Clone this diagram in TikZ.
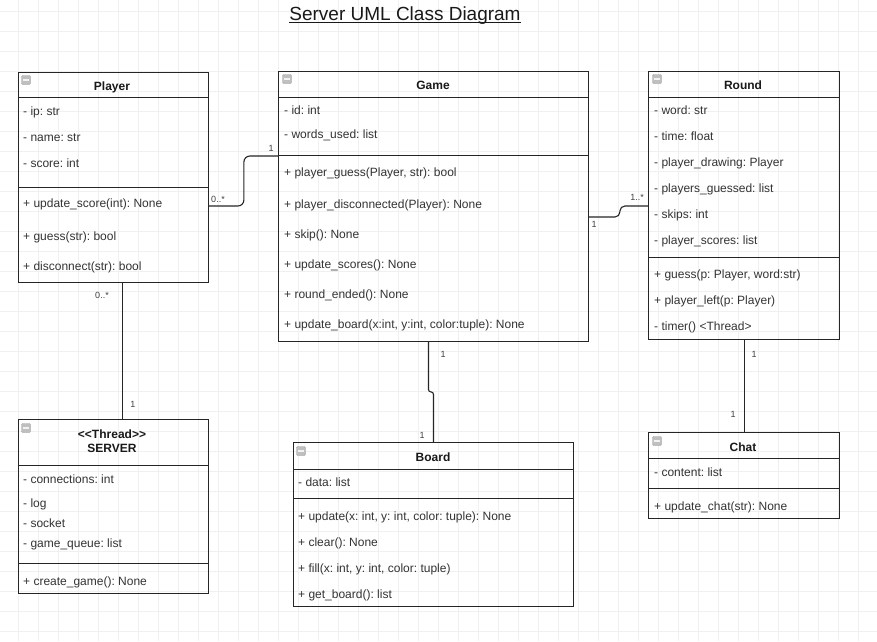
\documentclass[tikz,border=0pt]{standalone}
\usepackage{fontspec}
\setmainfont{Liberation Sans}
\usetikzlibrary{calc}
\frenchspacing
\tikzset{
 classbox/.style={draw=black!85, line width=0.9pt, inner sep=0, anchor=north west},
 divider/.style={draw=black!85, line width=0.9pt},
 txt/.style={anchor=west, inner sep=0, yshift=-1.5pt, font=\fontsize{12}{14}\selectfont\frenchspacing, text=black!80, text height=8.8pt, text depth=2.5pt},
 head/.style={inner sep=0, yshift=-1.5pt, font=\fontsize{12}{14}\selectfont\bfseries, text=black!90, text height=8.8pt, text depth=2.5pt},
 conn/.style={draw=black!85, line width=1.1pt},
 mult/.style={inner sep=0, font=\fontsize{9}{10}\selectfont, text=black!75},
 minusicon/.style={draw=gray!80, fill=gray!50, rounded corners=1.2pt, minimum size=9pt, inner sep=0,
   path picture={\draw[white!90!gray, line width=1.1pt] ([xshift=1.8pt]path picture bounding box.west) -- ([xshift=-1.8pt]path picture bounding box.east);}},
 gridline/.style={draw=black!6, line width=0.5pt}
}
\begin{document}
\begin{tikzpicture}[x=1pt,y=-1pt]
\useasboundingbox (0,0) rectangle (877,641);
\fill[white] (0,0) rectangle (877,641);
% grid
\foreach \gx in {-2,18,...,878} \draw[gridline] (\gx,0) -- (\gx,641);
\foreach \gy in {11,31,...,651} \draw[gridline] (0,\gy) -- (877,\gy);

% title
\node[inner sep=0, anchor=base, font=\fontsize{19}{22}\selectfont, text=black!90] (title) at (405,20) {Server UML Class Diagram};
\draw[black!90, line width=0.8pt] ([yshift=-2.2pt]title.base west) -- ([yshift=-2.2pt]title.base east);

% ---------- Player ----------
\node[classbox, minimum width=190pt, minimum height=210pt] (player) at (18,72) {};
\draw[divider] ([yshift=-25pt]player.north west) -- ([yshift=-25pt]player.north east);
\draw[divider] ([yshift=-115pt]player.north west) -- ([yshift=-115pt]player.north east);
\node[minusicon] (playericon) at (26,80) {};
\node[head] (playertitle) at (112,86) {Player};
\node[txt] (pa1) at (23,111) {- ip: str};
\node[txt] (pa2) at (23,137) {- name: str};
\node[txt] (pa3) at (23,163) {- score: int};
\node[txt] (pm1) at (23,203) {+ update\_score(int): None};
\node[txt] (pm2) at (23,236) {+ guess(str): bool};
\node[txt] (pm3) at (23,266) {+ disconnect(str): bool};

% ---------- Game ----------
\node[classbox, minimum width=310pt, minimum height=270pt] (game) at (278,71) {};
\draw[divider] ([yshift=-26pt]game.north west) -- ([yshift=-26pt]game.north east);
\draw[divider] ([yshift=-84pt]game.north west) -- ([yshift=-84pt]game.north east);
\node[minusicon] (gameicon) at (287,79) {};
\node[head] (gametitle) at (433,85) {Game};
\node[txt] (ga1) at (284,110) {- id: int};
\node[txt] (ga2) at (284,134) {- words\_used: list};
\node[txt] (gm1) at (284,172) {+ player\_guess(Player, str): bool};
\node[txt] (gm2) at (284,204) {+ player\_disconnected(Player): None};
\node[txt] (gm3) at (284,234) {+ skip(): None};
\node[txt] (gm4) at (284,264) {+ update\_scores(): None};
\node[txt] (gm5) at (284,294) {+ round\_ended(): None};
\node[txt] (gm6) at (284,324) {+ update\_board(x:int, y:int, color:tuple): None};

% ---------- Round ----------
\node[classbox, minimum width=191pt, minimum height=268pt] (round) at (648,71) {};
\draw[divider] ([yshift=-26pt]round.north west) -- ([yshift=-26pt]round.north east);
\draw[divider] ([yshift=-186pt]round.north west) -- ([yshift=-186pt]round.north east);
\node[minusicon] (roundicon) at (657,79) {};
\node[head] (roundtitle) at (743,85) {Round};
\node[txt] (ra1) at (654,110) {- word: str};
\node[txt] (ra2) at (654,136) {- time: float};
\node[txt] (ra3) at (654,162) {- player\_drawing: Player};
\node[txt] (ra4) at (654,188) {- players\_guessed: list};
\node[txt] (ra5) at (654,214) {- skips: int};
\node[txt] (ra6) at (654,240) {- player\_scores: list};
\node[txt] (rm1) at (654,274) {+ guess(p: Player, word:str)};
\node[txt] (rm2) at (654,300) {+ player\_left(p: Player)};
\node[txt] (rm3) at (654,326) {- timer() <Thread>};

% ---------- SERVER ----------
\node[classbox, minimum width=190pt, minimum height=174pt] (server) at (18,419) {};
\draw[divider] ([yshift=-46pt]server.north west) -- ([yshift=-46pt]server.north east);
\draw[divider] ([yshift=-144pt]server.north west) -- ([yshift=-144pt]server.north east);
\node[minusicon] (servericon) at (26,428) {};
\node[head] (serverstereo) at (112,434) {<{}<Thread>{}>};
\node[head] (servertitle) at (112,448) {SERVER};
\node[txt] (sa1) at (23,479) {- connections: int};
\node[txt] (sa2) at (23,503) {- log};
\node[txt] (sa3) at (23,523) {- socket};
\node[txt] (sa4) at (23,543) {- game\_queue: list};
\node[txt] (sm1) at (23,581) {+ create\_game(): None};

% ---------- Board ----------
\node[classbox, minimum width=280pt, minimum height=164pt] (board) at (293,442) {};
\draw[divider] ([yshift=-27pt]board.north west) -- ([yshift=-27pt]board.north east);
\draw[divider] ([yshift=-56pt]board.north west) -- ([yshift=-56pt]board.north east);
\node[minusicon] (boardicon) at (301,451) {};
\node[head] (boardtitle) at (433,457) {Board};
\node[txt] (ba1) at (298,482) {- data: list};
\node[txt] (bm1) at (298,516) {+ update(x: int, y: int, color: tuple): None};
\node[txt] (bm2) at (298,542) {+ clear(): None};
\node[txt] (bm3) at (298,568) {+ fill(x: int, y: int, color: tuple)};
\node[txt] (bm4) at (298,594) {+ get\_board(): list};

% ---------- Chat ----------
\node[classbox, minimum width=191pt, minimum height=86pt] (chat) at (648,432) {};
\draw[divider] ([yshift=-26pt]chat.north west) -- ([yshift=-26pt]chat.north east);
\draw[divider] ([yshift=-56pt]chat.north west) -- ([yshift=-56pt]chat.north east);
\node[minusicon] (chaticon) at (657,441) {};
\node[head] (chattitle) at (743,447) {Chat};
\node[txt] (ca1) at (654,472) {- content: list};
\node[txt] (cm1) at (654,506) {+ update\_chat(str): None};

% ---------- connectors ----------
\draw[conn, rounded corners=6pt] ([yshift=-134pt]player.north east) -- ++(35,0) |- ([yshift=-85pt]game.north west);
\draw[conn, rounded corners=5pt] ([yshift=-146pt]game.north east) -- ++(31,0) |- ([yshift=-135pt]round.north west);
\draw[conn, rounded corners=2.4pt] ([xshift=-5pt]game.south) -- ++(0,50) -| (board.north);
\draw[conn] ([xshift=9pt]player.south) -- ([xshift=9pt]server.north);
\draw[conn] ([xshift=0.5pt]round.south) -- ([xshift=0.5pt]chat.north);

% ---------- multiplicities ----------
\node[mult] (m1) at (218,199) {0..*};
\node[mult] (m2) at (271,148) {1};
\node[mult] (m3) at (594,224) {1};
\node[mult] (m4) at (637,197) {1..*};
\node[mult] (m5) at (443,354) {1};
\node[mult] (m6) at (422,435) {1};
\node[mult] (m7) at (102,295) {0..*};
\node[mult] (m8) at (133,404) {1};
\node[mult] (m9) at (754,354) {1};
\node[mult] (m10) at (733,414) {1};
\end{tikzpicture}
\end{document}
